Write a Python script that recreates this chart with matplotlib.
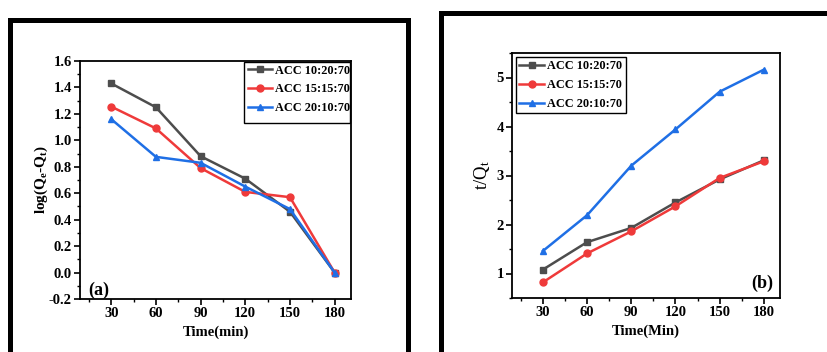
import matplotlib
matplotlib.use("Agg")
import matplotlib.pyplot as plt
from matplotlib.lines import Line2D
from matplotlib.patches import Rectangle
from matplotlib.ticker import MultipleLocator

plt.rcParams['font.family'] = ['Liberation Serif', 'DejaVu Serif']
plt.rcParams['mathtext.fontset'] = 'custom'
plt.rcParams['mathtext.rm'] = 'Liberation Serif'
plt.rcParams['mathtext.it'] = 'Liberation Serif'
plt.rcParams['mathtext.bf'] = 'Liberation Serif:bold'
plt.rcParams['axes.unicode_minus'] = False

time = [30, 60, 90, 120, 150, 180]
series_names = ['ACC 10:20:70', 'ACC 15:15:70', 'ACC 20:10:70']
colors = ['#4d4d4d', '#ef3a3a', '#1f6fe5']
markers = ['s', 'o', '^']

log_qe_qt = {
    'ACC 10:20:70': [1.43, 1.25, 0.88, 0.71, 0.46, 0.0],
    'ACC 15:15:70': [1.255, 1.09, 0.79, 0.61, 0.57, 0.0],
    'ACC 20:10:70': [1.16, 0.875, 0.83, 0.65, 0.48, 0.0],
}
t_over_qt = {
    'ACC 10:20:70': [1.08, 1.64, 1.93, 2.45, 2.92, 3.31],
    'ACC 15:15:70': [0.82, 1.41, 1.86, 2.37, 2.95, 3.29],
    'ACC 20:10:70': [1.46, 2.19, 3.20, 3.94, 4.71, 5.16],
}

W, H = 828, 352
fig = plt.figure(figsize=(W / 100, H / 100), dpi=100)

def fx(px):
    return px / W

def fy(py):
    return 1 - py / H

# outer panel frames
lw_frame = 5 * 72 / 100
for xs, ys in [([9.5, 9.5, 408, 408], [360, 19.5, 19.5, 360]),
               ([441.5, 441.5, 840], [360, 12.5, 12.5])]:
    fig.add_artist(Line2D([fx(x) for x in xs], [fy(y) for y in ys],
                          color='black', lw=lw_frame, solid_joinstyle='miter',
                          transform=fig.transFigure))

axA = fig.add_axes([fx(80), fy(299), fx(351) - fx(80), fy(61) - fy(299)])
axB = fig.add_axes([fx(512), fy(298), fx(780) - fx(512), fy(53) - fy(298)])

for name, c, m in zip(series_names, colors, markers):
    axA.plot(time, log_qe_qt[name], color=c, marker=m, lw=1.8, ms=5, label=name)
    axB.plot(time, t_over_qt[name], color=c, marker=m, lw=1.8, ms=5, label=name)

for ax in (axA, axB):
    ax.set_xlim(9, 191)
    ax.set_xticks(time)
    ax.xaxis.set_minor_locator(MultipleLocator(15))
    for s in ax.spines.values():
        s.set_linewidth(1.3)
    ax.tick_params(which='major', direction='out', length=4, width=1.2,
                   labelsize=10.5, pad=2)
    ax.tick_params(which='minor', direction='out', length=2.5, width=1.0)
    for lab in ax.get_xticklabels() + ax.get_yticklabels():
        lab.set_fontweight('bold')

leg_prop = {'family': 'Liberation Serif', 'weight': 'bold', 'size': 8.8}

axA.set_ylim(-0.2, 1.6)
axA.set_yticks([-0.2, 0.0, 0.2, 0.4, 0.6, 0.8, 1.0, 1.2, 1.4, 1.6])
axA.set_yticklabels(['-0.2', '0.0', '0.2', '0.4', '0.6', '0.8', '1.0', '1.2', '1.4', '1.6'],
                    fontweight='bold')
axA.yaxis.set_minor_locator(MultipleLocator(0.1))
axA.set_xlabel('Time(min)', fontsize=10.5, fontweight='bold', labelpad=4)
axA.set_ylabel(r'$\mathbf{log(Q_{e}\text{-}Q_{t})}$', fontsize=11, labelpad=-1)
axA.text(0.03, 0.0, '(a)', transform=axA.transAxes, fontsize=13,
         fontweight='bold', ha='left', va='bottom')
legA = axA.legend(loc='upper left', bbox_to_anchor=((244 - 80) / 271, 1.0),
                  borderaxespad=0.0, frameon=False, handlelength=2.0, handletextpad=0.25,
                  labelspacing=0.55, borderpad=0.3, prop=leg_prop)
axA.add_patch(Rectangle(((244 - 80) / 271, (299 - 123) / 238), (350 - 244) / 271,
                        (123 - 62) / 238, transform=axA.transAxes, fill=False,
                        edgecolor='black', lw=1.0, zorder=5, clip_on=False))
for t in legA.get_texts():
    pass

axB.set_ylim(0.5, 5.5)
axB.set_yticks([1, 2, 3, 4, 5])
axB.set_yticklabels(['1', '2', '3', '4', '5'], fontweight='bold')
axB.yaxis.set_minor_locator(MultipleLocator(0.5))
axB.set_xlabel('Time(Min)', fontsize=10.5, fontweight='bold', labelpad=4)
axB.set_ylabel(r'$\mathrm{t/Q_{t}}$', fontsize=13.5, labelpad=3)
axB.text(0.975, 0.025, '(b)', transform=axB.transAxes, fontsize=13,
         fontweight='bold', ha='right', va='bottom')
legB = axB.legend(loc='upper left', borderaxespad=0.3, frameon=True, fancybox=False,
                  edgecolor='black', framealpha=1, handlelength=2.0, handletextpad=0.25,
                  labelspacing=0.55, borderpad=0.3, prop=leg_prop)
legB.get_frame().set_linewidth(1.0)

fig.savefig('out.png', dpi=100)
